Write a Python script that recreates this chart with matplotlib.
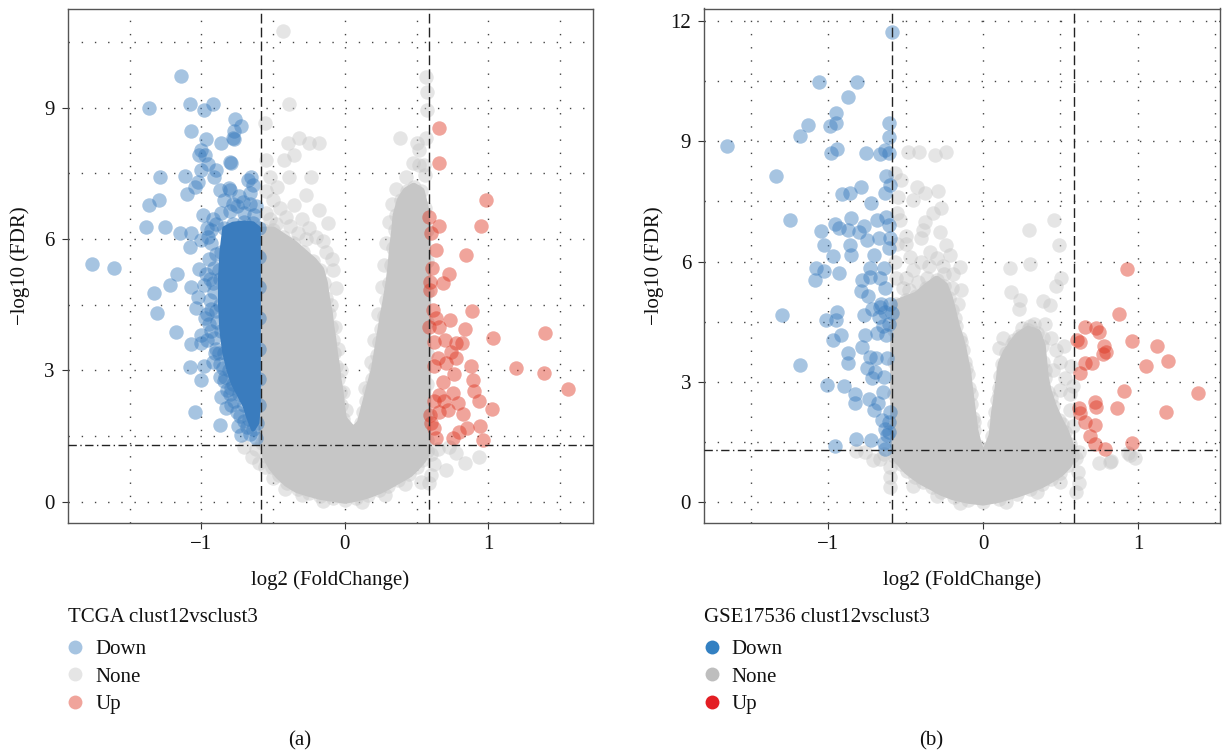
import matplotlib
matplotlib.use("Agg")
import matplotlib.pyplot as plt
from matplotlib.lines import Line2D
import numpy as np

plt.rcParams['font.family'] = ['Liberation Serif', 'DejaVu Serif']

# ---------------- data: panel (a) TCGA ----------------
x_ticks = [-1, 0, 1]
x_grid = [-1.5, -1, -0.5, 0, 0.5, 1, 1.5]
fc_cut = 0.585
fdr_cut = 1.301

grey_a_hull = [(-0.575, 1.35), (-0.575, 2.0), (-0.575, 2.7), (-0.575, 3.4), (-0.575, 4.1), (-0.575, 4.8),
               (-0.575, 5.5), (-0.57, 6.2), (-0.5, 6.2), (-0.43, 6.05), (-0.36, 5.9), (-0.29, 5.7), (-0.22, 5.5),
               (-0.17, 5.3), (-0.145, 5.0), (-0.13, 4.65), (-0.11, 4.3), (-0.1, 4.0), (-0.085, 3.7), (-0.075, 3.4),
               (-0.06, 3.1), (-0.05, 2.8), (-0.035, 2.5), (-0.025, 2.2), (-0.013, 1.9), (0.06, 1.62), (0.11, 1.8),
               (0.13, 2.05), (0.15, 2.3), (0.17, 2.55), (0.19, 2.8), (0.21, 3.05), (0.225, 3.35), (0.24, 3.65),
               (0.255, 3.95), (0.27, 4.25), (0.29, 4.6), (0.31, 5.0), (0.325, 5.4), (0.335, 5.8), (0.35, 6.2),
               (0.36, 6.55), (0.39, 6.9), (0.43, 7.1), (0.48, 7.2), (0.53, 7.1), (0.56, 6.7), (0.575, 6.2),
               (0.575, 5.5), (0.575, 4.8), (0.575, 4.1), (0.575, 3.4), (0.575, 2.7), (0.575, 2.0), (0.575, 1.4),
               (0.575, 1.15), (0.54, 0.95), (0.5, 0.8), (0.45, 0.64), (0.37, 0.49), (0.3, 0.36), (0.24, 0.26),
               (0.16, 0.16), (0.08, 0.09), (0.0, 0.04), (-0.08, 0.08), (-0.17, 0.13), (-0.25, 0.2), (-0.33, 0.28),
               (-0.4, 0.42), (-0.46, 0.6), (-0.51, 0.8), (-0.55, 1.05)]
grey_a_pts = [(-0.434, 10.75), (-0.387, 9.08), (-0.557, 8.65), (-0.394, 8.19), (-0.318, 8.30), (-0.248, 8.19),
              (-0.178, 8.19), (-0.353, 7.92), (-0.422, 7.81), (-0.55, 7.81), (-0.387, 7.43), (-0.236, 7.43),
              (-0.52, 7.43), (-0.47, 7.2), (-0.55, 7.1), (-0.271, 7.01), (-0.5, 6.9), (-0.353, 6.78), (-0.45, 6.7),
              (-0.178, 6.66), (-0.55, 6.6), (-0.41, 6.5), (-0.3, 6.45), (-0.12, 6.36), (-0.25, 6.25), (-0.48, 6.35),
              (-0.2, 6.05), (-0.15, 5.95), (-0.13, 5.7), (-0.09, 5.55), (-0.086, 5.3), (-0.062, 4.88), (-0.38, 6.3),
              (-0.33, 6.15), (-0.52, 6.45), (-0.27, 6.0), (-0.1, 4.5), (-0.07, 4.0), (-0.05, 3.5), (-0.03, 3.0),
              (-0.01, 2.5), (0.01, 2.1), (0.14, 2.6), (0.18, 3.2), (0.2, 3.7), (0.23, 4.3), (0.26, 4.9),
              (0.566, 9.70), (0.574, 9.36), (0.572, 8.95), (0.384, 8.30), (0.565, 8.30), (0.50, 8.19), (0.514, 8.04),
              (0.472, 7.75), (0.518, 7.69), (0.56, 7.46), (0.425, 7.41), (0.36, 7.15), (0.33, 6.8), (0.31, 6.4),
              (0.29, 5.9), (0.27, 5.4), (0.55, 7.7),
              (-0.701, 1.26), (-0.648, 1.03), (-0.6, 0.88), (-0.62, 1.2), (-0.56, 0.8), (0.727, 1.26), (0.774, 1.11),
              (0.839, 0.88), (0.937, 1.03), (0.704, 0.73), (0.588, 0.42), (0.62, 0.85), (0.6, 1.1), (0.65, 1.2),
              (0.53, 0.45), (0.6, 0.6), (-0.5, 0.55), (-0.42, 0.3), (-0.3, 0.15), (-0.15, 0.02), (0.12, 0.0),
              (0.28, 0.15), (0.42, 0.4)]
blue_a_hull = [(-0.84, 6.25), (-0.78, 6.35), (-0.7, 6.38), (-0.64, 6.36), (-0.6, 6.25), (-0.6, 5.6), (-0.6, 4.9),
               (-0.6, 4.2), (-0.6, 3.5), (-0.6, 2.8), (-0.6, 2.2), (-0.61, 1.8), (-0.64, 1.65), (-0.67, 1.9),
               (-0.7, 2.2), (-0.74, 2.45), (-0.78, 2.7), (-0.81, 3.0), (-0.84, 3.4), (-0.86, 3.9), (-0.87, 4.5),
               (-0.87, 5.1), (-0.86, 5.7)]
blue_a_pts = [(-1.139, 9.72), (-1.367, 9.00), (-1.081, 9.08), (-0.919, 9.08), (-0.981, 8.95), (-0.768, 8.74),
              (-0.721, 8.59), (-0.772, 8.47), (-1.070, 8.47), (-0.970, 8.28), (-0.865, 8.19), (-0.775, 8.28),
              (-1.005, 8.03), (-0.972, 7.92), (-1.020, 7.92), (-0.954, 7.71), (-1.000, 7.59), (-0.895, 7.58),
              (-0.796, 7.73), (-1.290, 7.42), (-1.116, 7.44), (-0.914, 7.42), (-1.023, 7.31), (-1.046, 7.19),
              (-1.100, 7.04), (-1.297, 6.89), (-1.365, 6.78), (-0.872, 7.12), (-0.802, 7.12), (-0.675, 7.35),
              (-0.988, 6.55), (-1.383, 6.28), (-1.255, 6.28), (-1.151, 6.13), (-1.074, 6.13), (-1.005, 5.98),
              (-1.081, 5.82), (-0.930, 6.20), (-0.954, 6.05), (-1.762, 5.43), (-1.611, 5.35), (-1.170, 5.21),
              (-1.016, 5.31), (-0.942, 5.10), (-1.221, 4.95), (-1.328, 4.78), (-1.070, 4.91), (-1.023, 4.68),
              (-1.035, 4.42), (-1.311, 4.32), (-0.977, 4.19), (-1.179, 3.87), (-1.070, 3.60), (-1.000, 3.81),
              (-1.000, 3.62), (-0.907, 3.39), (-1.077, 3.08), (-0.981, 3.11), (-1.005, 2.79), (-0.872, 2.85),
              (-0.837, 2.85), (-0.791, 2.59), (-0.826, 2.13), (-0.791, 2.21), (-1.046, 2.04), (-0.868, 1.76),
              (-0.744, 1.73), (-0.721, 1.52), (-0.780, 8.30), (-0.800, 7.77), (-0.654, 7.41), (-0.643, 7.24),
              (-0.806, 7.17), (-0.740, 6.98), (-0.660, 7.05), (-0.71, 6.85), (-0.62, 6.75), (-0.78, 6.8),
              (-0.93, 5.9), (-0.95, 5.55), (-0.92, 5.0), (-0.94, 4.6), (-0.96, 4.3), (-0.93, 3.9), (-0.90, 3.5),
              (-0.87, 3.15), (-0.84, 2.75), (-0.80, 2.45), (-0.75, 2.05), (-0.70, 1.85), (-0.66, 1.55),
              (-0.62, 1.45), (-0.90, 6.35), (-0.86, 6.6), (-0.80, 6.65), (-0.70, 6.6), (-0.63, 6.55), (-0.88, 5.3),
              (-0.91, 4.8), (-0.89, 4.1), (-0.98, 4.95), (-0.96, 3.7), (-0.92, 6.45), (-0.96, 6.25), (-0.9, 5.65),
              (-0.97, 5.2), (-0.91, 5.35), (-0.93, 4.4), (-0.9, 4.35), (-0.95, 4.05), (-0.91, 3.75), (-0.88, 3.4),
              (-0.85, 3.05), (-0.82, 2.55), (-0.77, 2.3), (-0.73, 1.95), (-0.68, 1.7), (-0.92, 3.2), (-0.86, 2.4),
              (-0.75, 6.75), (-0.84, 6.9), (-0.66, 6.8)]
red_a_pts = [(0.653, 8.55), (0.653, 7.73), (0.983, 6.89), (0.948, 6.31), (0.588, 6.50), (0.658, 6.30), (0.60, 6.13),
             (0.635, 5.75), (0.844, 5.64), (0.611, 5.33), (0.723, 5.20), (0.681, 5.00), (0.593, 5.03), (0.593, 4.84),
             (0.885, 4.36), (0.616, 4.38), (0.634, 4.19), (0.732, 4.15), (0.588, 4.00), (0.658, 4.00), (0.839, 3.94),
             (1.034, 3.73), (1.396, 3.85), (0.70, 3.70), (0.774, 3.63), (0.82, 3.63), (0.623, 3.66), (0.739, 3.43),
             (0.646, 3.28), (0.774, 3.28), (0.704, 3.16), (0.623, 3.09), (0.879, 3.09), (1.192, 3.05), (1.385, 2.95),
             (0.758, 2.91), (0.681, 2.74), (0.89, 2.78), (1.557, 2.58), (0.902, 2.54), (0.658, 2.44), (0.751, 2.48),
             (0.937, 2.29), (0.623, 2.29), (0.693, 2.29), (0.79, 2.25), (1.029, 2.11), (0.658, 2.06), (0.716, 2.09),
             (0.593, 1.98), (0.827, 2.00), (0.60, 1.79), (0.623, 1.68), (0.941, 1.74), (0.851, 1.68), (0.797, 1.60),
             (0.751, 1.45), (0.635, 1.45), (0.964, 1.40)]

# ---------------- data: panel (b) GSE17536 ----------------
grey_b_hull = [(-0.575, 1.15), (-0.575, 1.9), (-0.575, 2.7), (-0.575, 3.5), (-0.575, 4.3), (-0.565, 4.95),
               (-0.5, 5.05), (-0.43, 5.15), (-0.37, 5.35), (-0.3, 5.55), (-0.25, 5.4), (-0.22, 5.1), (-0.2, 4.8),
               (-0.175, 4.4), (-0.15, 4.1), (-0.13, 3.8), (-0.115, 3.5), (-0.1, 3.2), (-0.09, 2.85), (-0.077, 2.45),
               (-0.065, 2.1), (-0.056, 1.8), (-0.03, 1.4), (0.0, 1.15), (0.03, 1.35), (0.06, 1.65), (0.07, 1.95),
               (0.077, 2.25), (0.09, 2.55), (0.1, 2.85), (0.11, 3.15), (0.12, 3.45), (0.15, 3.72), (0.19, 3.95),
               (0.23, 4.15), (0.29, 4.3), (0.35, 4.22), (0.38, 3.9), (0.39, 3.5), (0.4, 3.1), (0.42, 2.75),
               (0.45, 2.4), (0.49, 2.05), (0.53, 1.75), (0.56, 1.45), (0.575, 1.15), (0.55, 0.92), (0.5, 0.72),
               (0.44, 0.57), (0.38, 0.44), (0.3, 0.31), (0.22, 0.2), (0.1, 0.07), (0.0, 0.0), (-0.1, 0.05),
               (-0.19, 0.13), (-0.27, 0.25), (-0.33, 0.38), (-0.39, 0.5), (-0.44, 0.63), (-0.49, 0.78), (-0.53, 0.95)]
grey_b_pts = [(-0.485, 8.73), (-0.414, 8.73), (-0.312, 8.66), (-0.237, 8.73), (-0.571, 8.20), (-0.528, 8.04),
              (-0.427, 7.87), (-0.377, 7.70), (-0.291, 7.76), (-0.453, 7.54), (-0.269, 7.33), (-0.323, 7.20),
              (-0.377, 6.99), (-0.388, 6.79), (-0.28, 6.75), (-0.399, 6.58), (-0.496, 6.45), (-0.237, 6.41),
              (-0.345, 6.25), (-0.216, 6.16), (-0.474, 6.12), (-0.151, 5.87), (-0.194, 5.70), (-0.14, 5.29),
              (-0.162, 4.95), (-0.556, 7.2), (-0.536, 7.05), (-0.556, 6.45), (-0.499, 6.63), (-0.57, 6.0),
              (-0.56, 5.6), (-0.5, 5.6), (-0.45, 5.8), (-0.4, 6.0), (-0.35, 5.9), (-0.3, 6.1), (-0.26, 5.9),
              (-0.42, 5.5), (-0.52, 5.35), (-0.2, 5.35), (-0.55, 7.6), (-0.48, 5.3), (-0.36, 5.6), (-0.25, 5.7),
              (-0.18, 4.6), (-0.14, 4.0), (-0.11, 3.35), (-0.08, 2.7), (-0.06, 2.0), (0.09, 2.1), (0.1, 2.7),
              (0.13, 3.3), (0.2, 4.05), (0.3, 4.4), (0.39, 4.1), (0.4, 3.3), (0.44, 2.6), (0.51, 1.95),
              (0.457, 7.04), (0.295, 6.79), (0.489, 6.41), (0.302, 5.94), (0.172, 5.83), (0.506, 5.58),
              (0.474, 5.39), (0.179, 5.25), (0.237, 5.04), (0.23, 4.81), (0.388, 5.01), (0.431, 4.91),
              (0.44, 4.1), (0.4, 4.45), (0.33, 4.45), (0.25, 4.35), (0.47, 3.8), (0.5, 3.5), (0.45, 3.3),
              (0.53, 3.1), (0.56, 2.7), (0.5, 2.8), (0.56, 2.3), (0.58, 1.9), (0.52, 3.9), (0.57, 3.4), (0.58, 2.9),
              (0.1, 3.85), (0.13, 4.1),
              (-0.82, 1.26), (-0.712, 1.05), (-0.664, 1.08), (-0.6, 0.87), (-0.6, 0.62), (-0.6, 0.37), (-0.64, 1.2),
              (-0.76, 1.25), (0.611, 0.75), (0.62, 0.46), (0.749, 0.96), (0.82, 1.0), (0.949, 1.17), (0.98, 1.1),
              (0.829, 1.03), (0.937, 1.21), (0.6, 1.1), (0.62, 1.25), (0.6, 0.25), (-0.45, 0.4), (-0.3, 0.15),
              (-0.15, -0.02), (0.15, 0.0), (0.35, 0.25), (0.5, 0.5)]
blue_b_pts = [(-0.589, 11.73), (-1.058, 10.49), (-0.815, 10.49), (-0.873, 10.10), (-0.951, 9.72), (-0.951, 9.45),
              (-0.987, 9.39), (-1.132, 9.41), (-1.183, 9.13), (-1.655, 8.88), (-0.610, 9.45), (-0.610, 9.12),
              (-0.983, 8.72), (-0.944, 8.80), (-0.755, 8.72), (-0.664, 8.69), (-0.632, 8.79), (-0.610, 8.70),
              (-0.625, 8.14), (-1.336, 8.14), (-0.789, 7.87), (-0.912, 7.69), (-0.858, 7.70), (-0.636, 7.70),
              (-0.722, 7.47), (-1.246, 7.05), (-0.955, 6.95), (-0.854, 7.10), (-0.772, 6.89), (-0.686, 7.04),
              (-0.625, 7.12), (-0.610, 6.91), (-1.048, 6.77), (-0.933, 6.83), (-0.869, 6.79), (-0.800, 6.75),
              (-0.750, 6.55), (-0.675, 6.58), (-1.024, 6.41), (-0.858, 6.41), (-0.610, 6.35), (-0.972, 6.15),
              (-0.851, 6.16), (-0.703, 6.16), (-0.729, 5.83), (-0.642, 5.83), (-1.080, 5.85), (-1.030, 5.76),
              (-0.933, 5.72), (-1.084, 5.54), (-0.782, 5.55), (-0.729, 5.62), (-0.664, 5.58), (-0.632, 5.35),
              (-0.789, 5.27), (-0.746, 5.14), (-1.300, 4.66), (-1.013, 4.54), (-0.944, 4.75), (-0.948, 4.54),
              (-0.772, 4.66), (-0.718, 4.81), (-0.664, 4.87), (-0.632, 4.75), (-0.589, 4.71), (-0.675, 4.62),
              (-0.647, 4.39), (-0.625, 4.16), (-0.918, 4.16), (-0.970, 4.04), (-0.765, 4.16), (-0.686, 4.21),
              (-0.782, 3.86), (-0.875, 3.72), (-0.873, 3.46), (-1.181, 3.42), (-0.729, 3.62), (-0.690, 3.58),
              (-0.750, 3.33), (-0.696, 3.25), (-0.718, 3.08), (-0.642, 3.12), (-1.009, 2.92), (-0.897, 2.89),
              (-0.826, 2.68), (-0.826, 2.46), (-0.735, 2.56), (-0.681, 2.47), (-0.649, 2.75), (-0.703, 2.29),
              (-0.599, 2.25), (-0.653, 2.04), (-0.632, 1.83), (-0.621, 1.67), (-0.821, 1.58), (-0.722, 1.54),
              (-0.642, 1.46), (-0.955, 1.39), (-0.632, 1.33), (-0.61, 4.45), (-0.6, 4.95), (-0.605, 2.0),
              (-0.61, 1.75), (-0.6, 7.9), (-0.6, 6.6), (-0.66, 4.95), (-0.62, 3.6)]
red_b_pts = [(0.931, 5.81), (0.877, 4.69), (0.657, 4.36), (0.728, 4.35), (0.750, 4.25), (0.607, 4.04), (0.629, 4.00),
             (0.959, 4.02), (1.124, 3.90), (0.782, 3.89), (0.797, 3.75), (0.775, 3.69), (1.196, 3.52), (0.657, 3.47),
             (0.706, 3.46), (1.049, 3.40), (0.629, 3.21), (0.909, 2.77), (1.385, 2.71), (0.722, 2.48), (0.732, 2.36),
             (0.618, 2.33), (0.866, 2.33), (1.180, 2.23), (0.625, 2.21), (0.657, 2.00), (0.722, 1.92), (0.689, 1.64),
             (0.722, 1.44), (0.786, 1.33), (0.963, 1.48)]

legend_labels = ['Down', 'None', 'Up']
legend_title_a = 'TCGA clust12vsclust3'
legend_title_b = 'GSE17536 clust12vsclust3'

# ---------------- style ----------------
C_DOWN, C_NONE, C_UP = '#3A7CBE', '#C6C6C6', '#DE3723'
SOLID = ['#3380C2', '#BEBEBE', '#E31E24']
ALPHA = 0.45
S = 108
FS = 15
W, H = 1226, 752


def xy(pts):
    a = np.array(pts, dtype=float)
    return a[:, 0], a[:, 1]


def box(l, t, r, b):
    return [l / W, 1 - b / H, (r - l) / W, (b - t) / H]


fig = plt.figure(figsize=(W / 100, H / 100), dpi=100)
ax_a = fig.add_axes(box(68, 8.5, 593, 523))
ax_b = fig.add_axes(box(704.3, 8.5, 1220, 523))


def panel(ax, grey_hull, grey_pts, blue_hull, blue_pts, red_pts, xlim, ylim, yticks, ygrid):
    for g in x_grid:
        ax.axvline(g, color='#444444', lw=1.0, ls=(0, (1, 8.5)), zorder=0.5)
    for g in ygrid:
        ax.axhline(g, color='#444444', lw=1.0, ls=(0, (1, 8.5)), zorder=0.5)
    gx, gy = xy(grey_hull)
    ax.fill(gx, gy, facecolor=C_NONE, edgecolor=C_NONE, lw=5.5, joinstyle='round', zorder=1)
    px, py = xy(grey_hull + grey_pts)
    ax.scatter(px, py, s=S, c=C_NONE, alpha=ALPHA, linewidths=0, zorder=2)
    if blue_hull:
        bx, by = xy(blue_hull)
        ax.fill(bx, by, facecolor=C_DOWN, edgecolor=C_DOWN, lw=3, joinstyle='round', zorder=3)
        blue_pts = blue_hull + blue_pts
    bx, by = xy(blue_pts)
    ax.scatter(bx, by, s=S, c=C_DOWN, alpha=ALPHA, linewidths=0, zorder=4)
    rx, ry = xy(red_pts)
    ax.scatter(rx, ry, s=S, c=C_UP, alpha=ALPHA, linewidths=0, zorder=5)
    for v in (-fc_cut, fc_cut):
        ax.axvline(v, color='#222222', lw=1.0, ls=(0, (7, 3)), zorder=6)
    ax.axhline(fdr_cut, color='#222222', lw=1.0, ls=(0, (6, 2.5, 1, 2.5)), zorder=6)
    ax.set_xlim(*xlim)
    ax.set_ylim(*ylim)
    ax.set_xticks(x_ticks)
    ax.set_yticks(yticks)
    ax.set_xticklabels(['\u22121', '0', '1'])
    ax.set_yticklabels([str(t) for t in yticks])
    ax.tick_params(axis='both', length=4, width=0.8, color='#333333', labelsize=FS, labelcolor='#111111')
    ax.tick_params(axis='x', pad=4.5)
    ax.tick_params(axis='y', pad=5.5)
    for sp in ax.spines.values():
        sp.set_color('#555555')
        sp.set_linewidth(1.0)
    ax.set_xlabel('log2 (FoldChange)', fontsize=FS, color='#111111', va='top')
    ax.set_ylabel('\u2212log10 (FDR)', fontsize=FS, color='#111111')


panel(ax_a, grey_a_hull, grey_a_pts, blue_a_hull, blue_a_pts, red_a_pts,
      (-1.93, 1.73), (-0.487, 11.27), [0, 3, 6, 9], [0, 1.5, 3, 4.5, 6, 7.5, 9, 10.5])
panel(ax_b, grey_b_hull, grey_b_pts, None, blue_b_pts, red_b_pts,
      (-1.80, 1.53), (-0.53, 12.32), [0, 3, 6, 9, 12], [0, 1.5, 3, 4.5, 6, 7.5, 9, 10.5, 12])

ax_a.xaxis.set_label_coords(0.5, -(570 - 523) / 514.5)
ax_b.xaxis.set_label_coords(0.5, -(570 - 523) / 514.5)
ax_a.yaxis.set_label_coords((30 - 68) / 525, 0.5)
ax_b.yaxis.set_label_coords((664 - 704.3) / 515.7, 0.5)


def legend(ax, title, colors, alpha, x0):
    handles = [Line2D([], [], ls='', marker='o', markersize=10, markerfacecolor=c,
                      markeredgewidth=0, alpha=alpha) for c in colors]
    lg = ax.legend(handles, legend_labels, loc='upper left',
                   bbox_to_anchor=(x0 / W, 1 - 639.5 / H), bbox_transform=fig.transFigure,
                   frameon=False, borderpad=0, borderaxespad=0, handlelength=0.7, handletextpad=0.6,
                   labelspacing=0.38, fontsize=FS)
    for t in lg.get_texts():
        t.set_color('#111111')
    fig.text(x0 / W, 1 - 618 / H, title, ha='left', va='center', fontsize=FS, color='#111111')


legend(ax_a, legend_title_a, [C_DOWN, C_NONE, C_UP], ALPHA, 68)
legend(ax_b, legend_title_b, SOLID, 1.0, 704.3)

fig.text(300 / W, 1 - 741 / H, '(a)', ha='center', va='center', fontsize=FS, color='#111111')
fig.text(931 / W, 1 - 741 / H, '(b)', ha='center', va='center', fontsize=FS, color='#111111')

fig.savefig('out.png', dpi=100)
